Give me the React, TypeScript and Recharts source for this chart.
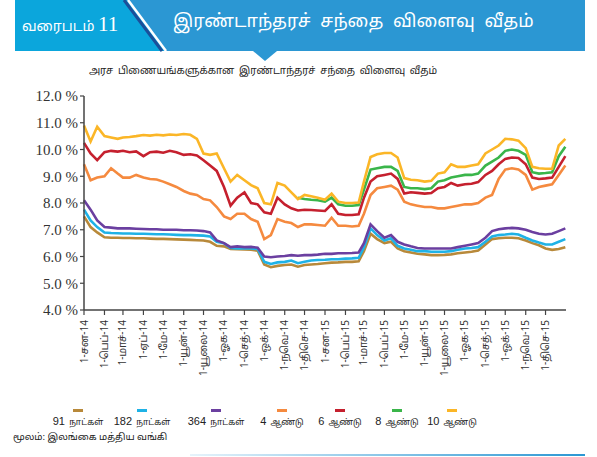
import React from "react";
import { LineChart, Line, XAxis, YAxis } from "recharts";

// tick labels, one per month (Jan 2014 .. Dec 2015), as printed in the source
const monthLabels = [
  "1-சன-14", "1-பெப்-14", "1-மாச்-14", "1-ஏப்-14", "1-மே-14", "1-யூன்-14",
  "1-யூலை-14", "1-ஓக-14", "1-செத்-14", "1-ஒக்-14", "1-நவெ-14", "1-திசெ-14",
  "1-சன-15", "1-பெப்-15", "1-மாச்-15", "1-பெப்-15", "1-மே-15", "1-யூன்-15",
  "1-யூலை-15", "1-ஓக-15", "1-செத்-15", "1-ஒக்-15", "1-நவெ-15", "1-திசெ-15",
];

// sampling days inside each month, plus the last day of the period
const sampleDays = [1, 11, 21];
const lastDate = "2015-12-31";

const yTicks = [4, 5, 6, 7, 8, 9, 10, 11, 12];

// yields (%), one value per sample date
const d91 = [
  7.5, 7.1, 6.9, 6.72, 6.7, 6.7, 6.69, 6.69, 6.68, 6.68, 6.67, 6.66,
  6.66, 6.65, 6.64, 6.63, 6.62, 6.61, 6.6, 6.55, 6.4, 6.38, 6.28, 6.27,
  6.26, 6.25, 6.22, 5.7, 5.6, 5.65, 5.68, 5.7, 5.62, 5.68, 5.7, 5.72,
  5.75, 5.77, 5.78, 5.8, 5.8, 5.82, 6.2, 6.85, 6.65, 6.5, 6.55, 6.3,
  6.2, 6.15, 6.1, 6.08, 6.05, 6.05, 6.06, 6.08, 6.12, 6.15, 6.18, 6.22,
  6.45, 6.65, 6.68, 6.7, 6.7, 6.68, 6.6, 6.5, 6.42, 6.3, 6.25, 6.28, 6.35,
];
const d182 = [
  7.75, 7.35, 7.1, 6.9, 6.88, 6.87, 6.86, 6.86, 6.85, 6.85, 6.84, 6.83,
  6.83, 6.82, 6.81, 6.8, 6.8, 6.79, 6.78, 6.75, 6.55, 6.5, 6.32, 6.3,
  6.3, 6.3, 6.28, 5.8, 5.72, 5.78, 5.8, 5.85, 5.75, 5.8, 5.85, 5.87,
  5.88, 5.9, 5.9, 5.92, 5.93, 5.95, 6.35, 7.05, 6.8, 6.6, 6.68, 6.4,
  6.3, 6.25, 6.2, 6.2, 6.18, 6.18, 6.18, 6.2, 6.25, 6.3, 6.32, 6.35,
  6.55, 6.75, 6.8, 6.82, 6.85, 6.82, 6.7, 6.6, 6.52, 6.45, 6.45, 6.55, 6.65,
];
const d364 = [
  8.1, 7.75, 7.35, 7.1, 7.08, 7.05, 7.05, 7.05, 7.04, 7.03, 7.02, 7.02,
  7.0, 7.0, 7.0, 6.98, 6.98, 6.97, 6.95, 6.9, 6.6, 6.5, 6.35, 6.38,
  6.35, 6.36, 6.33, 6.0, 5.97, 6.0, 6.02, 6.05, 6.03, 6.05, 6.05, 6.07,
  6.1, 6.1, 6.12, 6.12, 6.13, 6.15, 6.5, 7.2, 6.95, 6.7, 6.8, 6.55,
  6.45, 6.38, 6.32, 6.3, 6.3, 6.3, 6.3, 6.3, 6.35, 6.4, 6.45, 6.5,
  6.7, 6.95, 7.02, 7.05, 7.07, 7.05, 7.0, 6.92, 6.85, 6.82, 6.85, 6.95, 7.05,
];
const d4y = [
  9.45, 8.85, 8.95, 9.0, 9.3, 9.1, 8.95, 8.95, 9.05, 8.95, 8.9, 8.88,
  8.8, 8.7, 8.6, 8.45, 8.35, 8.3, 8.15, 8.1, 7.85, 7.5, 7.4, 7.6,
  7.6, 7.4, 7.3, 6.65, 6.8, 7.4, 7.3, 7.25, 7.1, 7.2, 7.2, 7.18,
  7.15, 7.45, 7.15, 7.15, 7.12, 7.15, 7.6, 8.3, 8.55, 8.6, 8.65, 8.5,
  8.05, 7.95, 7.9, 7.85, 7.85, 7.8, 7.8, 7.85, 7.9, 7.95, 7.95, 8.0,
  8.2, 8.3, 8.9, 9.25, 9.3, 9.25, 9.05, 8.5, 8.6, 8.65, 8.7, 9.05, 9.4,
];
const d6y = [
  10.25, 9.85, 9.6, 9.9, 9.95, 9.92, 9.95, 9.9, 9.93, 9.75, 9.9, 9.92,
  9.88, 9.95, 9.9, 9.8, 9.82, 9.78, 9.6, 9.4, 9.2, 8.6, 7.9, 8.2,
  8.4, 8.0, 7.95, 7.65, 7.6, 8.2, 7.95, 7.8, 7.72, 7.75, 7.74, 7.72,
  7.7, 7.95, 7.6, 7.55, 7.55, 7.58, 8.2, 8.8, 9.0, 9.05, 9.1, 8.9,
  8.35, 8.4, 8.38, 8.35, 8.37, 8.55, 8.6, 8.75, 8.65, 8.7, 8.72, 8.78,
  9.05, 9.2, 9.45, 9.65, 9.7, 9.68, 9.45, 8.95, 8.9, 8.92, 8.95, 9.35, 9.75,
];
// 8-year paper is quoted only from late 2014
const d8y = [
  null, null, null, null, null, null, null, null, null, null, null, null,
  null, null, null, null, null, null, null, null, null, null, null, null,
  null, null, null, null, null, null, null, null, 8.2, 8.15, 8.12, 8.1,
  8.05, 8.2, 7.95, 7.9, 7.9, 7.92, 8.5, 9.25, 9.3, 9.35, 9.35, 9.2,
  8.6, 8.55, 8.55, 8.52, 8.55, 8.8, 8.85, 8.95, 9.0, 9.05, 9.05, 9.1,
  9.4, 9.55, 9.7, 9.95, 10.0, 9.95, 9.8, 9.15, 9.1, 9.12, 9.15, 9.75, 10.1,
];
const d10y = [
  10.9, 10.3, 10.85, 10.5, 10.45, 10.4, 10.45, 10.47, 10.5, 10.54, 10.52, 10.55,
  10.53, 10.56, 10.54, 10.58, 10.55, 10.4, 9.85, 9.8, 9.85, 9.3, 8.8, 9.05,
  8.85, 8.67, 8.55, 8.0, 7.95, 8.75, 8.65, 8.4, 8.15, 8.3, 8.25, 8.2,
  8.12, 8.35, 8.05, 8.0, 8.0, 8.02, 8.8, 9.72, 9.82, 9.87, 9.87, 9.7,
  8.93, 8.87, 8.85, 8.8, 8.83, 9.1, 9.15, 9.45, 9.35, 9.35, 9.4, 9.45,
  9.85, 10.0, 10.15, 10.4, 10.38, 10.33, 10.05, 9.35, 9.3, 9.28, 9.28, 10.15, 10.4,
];

const series = [
  { key: "d91", num: "91", unit: "நாட்கள்", color: "#b8893a", values: d91 },
  { key: "d182", num: "182", unit: "நாட்கள்", color: "#1fb2e6", values: d182 },
  { key: "d364", num: "364", unit: "நாட்கள்", color: "#6b3fa0", values: d364 },
  { key: "d4y", num: "4", unit: "ஆண்டு", color: "#f58a3f", values: d4y },
  { key: "d6y", num: "6", unit: "ஆண்டு", color: "#c5202e", values: d6y },
  { key: "d8y", num: "8", unit: "ஆண்டு", color: "#3ab54a", values: d8y },
  { key: "d10y", num: "10", unit: "ஆண்டு", color: "#fbb627", values: d10y },
];

const DAY = 86400000;
const start = Date.UTC(2014, 0, 1);
const dayOf = (y: number, m: number, d: number) => (Date.UTC(y, m, d) - start) / DAY;

const sampleT: number[] = [];
monthLabels.forEach((_, m) => sampleDays.forEach((d) => sampleT.push(dayOf(2014, m, d))));
sampleT.push((Date.parse(lastDate) - start) / DAY);

const monthTicks = monthLabels.map((_, m) => dayOf(2014, m, 1));

const data = sampleT.map((t, i) => {
  const row: Record<string, number | null> = { t };
  series.forEach((s) => (row[s.key] = s.values[i]));
  return row;
});

const tamil = "'Noto Sans Tamil', 'Noto Sans', Arial, sans-serif";
const sans = "'Liberation Sans', Arial, sans-serif";
const serif = "'Liberation Serif', 'Times New Roman', serif";

const MonthTick = (props: any) => {
  const { x, y, payload } = props;
  const label: string = monthLabels[monthTicks.indexOf(payload.value)] ?? "";
  return (
    <g transform={`translate(${x},${y})`}>
      <text
        transform="rotate(-90)"
        x={-3}
        y={0}
        dy="0.35em"
        textAnchor="end"
        fill="#333"
        fontSize={10}
        fontFamily={tamil}
      >
        {label}
      </text>
    </g>
  );
};

const legendCenters = [78, 142, 216, 282, 340, 397, 452];

const App: React.FC = () => {
  return (
    <div
      style={{
        position: "absolute",
        left: 0,
        top: 0,
        width: 597,
        height: 457,
        background: "#fff",
        overflow: "hidden",
        fontFamily: tamil,
      }}
    >
      {/* banner */}
      <div style={{ position: "absolute", left: 15, top: 0, width: 570, height: 51, background: "#2b97d3" }} />
      <div
        style={{
          position: "absolute",
          left: 15,
          top: 0,
          width: 160,
          height: 51,
          background: "#0ba6dc",
          clipPath: "polygon(0 0, 112px 0, 150px 51px, 0 51px)",
        }}
      />
      <svg style={{ position: "absolute", left: 0, top: 0 }} width={597} height={62}>
        <line x1={124} y1={0} x2={162} y2={51} stroke="#1b4f9a" strokeWidth={3} />
        <line x1={128} y1={0} x2={166} y2={51} stroke="#ffffff" strokeWidth={2.5} />
        <polygon points="253,51 277,51 265,61" fill="#2b97d3" />
      </svg>
      <div style={{ position: "absolute", left: 22, top: 12, color: "#fff", fontSize: 14, whiteSpace: "nowrap" }}>
        வரைபடம் <span style={{ fontFamily: serif, fontSize: 21 }}>11</span>
      </div>
      <div
        style={{
          position: "absolute",
          left: 173,
          width: 300,
          top: 11,
          textAlign: "center",
          color: "#fff",
          fontSize: 18,
          wordSpacing: 5,
          whiteSpace: "nowrap",
        }}
      >
        இரண்டாந்தரச் சந்தை விளைவு வீதம்
      </div>
      <div
        style={{
          position: "absolute",
          left: 63,
          width: 400,
          top: 65,
          textAlign: "center",
          color: "#222",
          fontSize: 10,
          wordSpacing: 2,
          whiteSpace: "nowrap",
        }}
      >
        அரச பிணையங்களுக்கான இரண்டாந்தரச் சந்தை விளைவு வீதம்
      </div>

      <div style={{ position: "absolute", left: 0, top: 0 }}>
        <LineChart width={597} height={400} data={data} margin={{ top: 96, right: 31, bottom: 20, left: 0 }}>
          <XAxis
            dataKey="t"
            type="number"
            domain={[0, 730]}
            ticks={monthTicks}
            interval={0}
            tick={<MonthTick />}
            tickSize={5}
            height={70}
            axisLine={{ stroke: "#444", strokeWidth: 1.5 }}
            tickLine={{ stroke: "#444", strokeWidth: 1.2 }}
          />
          <YAxis
            domain={[4, 12]}
            ticks={yTicks}
            width={84}
            tickSize={4}
            tickFormatter={(v: number) => `${v.toFixed(1)} %`}
            tick={{ fill: "#333", fontSize: 15, fontFamily: serif }}
            axisLine={{ stroke: "#444", strokeWidth: 1.5 }}
            tickLine={{ stroke: "#444", strokeWidth: 1.2 }}
          />
          {series.map((s) => (
            <Line
              key={s.key}
              dataKey={s.key}
              name={`${s.num} ${s.unit}`}
              type="linear"
              stroke={s.color}
              strokeWidth={2.6}
              dot={false}
              connectNulls={false}
              isAnimationActive={false}
            />
          ))}
        </LineChart>
      </div>

      {/* legend: short line above each label */}
      {series.map((s, i) => (
        <div
          key={s.key}
          style={{ position: "absolute", left: legendCenters[i] - 40, width: 80, top: 409, textAlign: "center" }}
        >
          <div style={{ width: 10, height: 2.5, background: s.color, margin: "0 auto" }} />
          <div style={{ color: "#222", marginTop: 2, whiteSpace: "nowrap", lineHeight: "14px" }}>
            <span style={{ fontFamily: sans, fontSize: 11 }}>{s.num}</span>{" "}
            <span style={{ fontSize: 8.5 }}>{s.unit}</span>
          </div>
        </div>
      ))}

      <div style={{ position: "absolute", left: 13, top: 432, fontSize: 9.5, color: "#222", whiteSpace: "nowrap" }}>
        மூலம்: இலங்கை மத்திய வங்கி
      </div>
      <div
        style={{
          position: "absolute",
          left: 190,
          top: 454,
          width: 395,
          height: 2,
          background: "linear-gradient(to right, #e6f3fb, #2b97d3)",
        }}
      />
    </div>
  );
};

export default App;
